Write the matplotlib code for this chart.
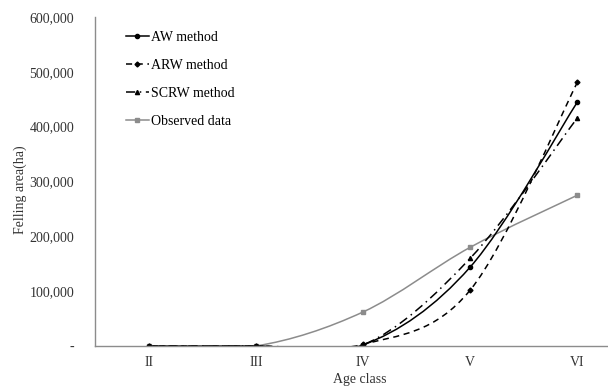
import matplotlib
matplotlib.use("Agg")
import matplotlib.pyplot as plt
from matplotlib.path import Path
from matplotlib.patches import PathPatch
from matplotlib.lines import Line2D
from matplotlib.ticker import FuncFormatter
import numpy as np

plt.rcParams['font.family'] = ['Liberation Serif', 'DejaVu Serif']

categories = ["II", "III", "IV", "V", "VI"]
aw = [0, 0, 2000, 144000, 445000]
arw = [0, 0, 3000, 102000, 481000]
scrw = [0, 0, 2000, 160000, 416000]
observed = [0, 0, 62000, 180000, 275000]

fig = plt.figure(figsize=(6.08, 3.90), dpi=100)
W, H = 608, 390
left, right, top, bottom = 95, 631, 17, 346
ax = fig.add_axes([left / W, 1 - bottom / H, (right - left) / W, (bottom - top) / H])

def smooth_path(xs, ys):
    pts = np.column_stack([xs, ys]).astype(float)
    n = len(pts)
    verts = [pts[0]]
    codes = [Path.MOVETO]
    for i in range(n - 1):
        p0 = pts[max(i - 1, 0)]
        p1 = pts[i]
        p2 = pts[i + 1]
        p3 = pts[min(i + 2, n - 1)]
        c1 = p1 + (p2 - p0) / 6.0
        c2 = p2 - (p3 - p1) / 6.0
        verts += [c1, c2, p2]
        codes += [Path.CURVE4] * 3
    return Path(verts, codes)

x = np.arange(len(categories))
series = [
    (aw, "AW method", "black", "-", "o", 3.0),
    (arw, "ARW method", "black", (0, (4, 3)), "D", 2.5),
    (scrw, "SCRW method", "black", (0, (6, 3, 1, 3)), "^", 3.0),
    (observed, "Observed data", "#8c8c8c", "-", "s", 3.0),
]
handles = []
for ys, label, color, ls, mk, ms in series[::-1]:
    patch = PathPatch(smooth_path(x, ys), fill=False, edgecolor=color,
                      linestyle=ls, linewidth=1.1)
    ax.add_patch(patch)
    ax.plot(x, ys, linestyle="none", marker=mk, markersize=ms, color=color)
for ys, label, color, ls, mk, ms in series:
    handles.append(Line2D([], [], color=color, linestyle=ls, linewidth=1.1,
                          marker=mk, markersize=ms, label=label))

ax.set_xlim(-0.5, len(categories) - 0.5)
ax.set_ylim(0, 600000)
ax.set_xticks(x)
ax.set_xticklabels(categories)
ax.set_yticks(np.arange(0, 600001, 100000))
ax.yaxis.set_major_formatter(FuncFormatter(lambda v, p: "-" if v == 0 else f"{int(v):,}"))
ax.tick_params(axis="both", length=0, labelsize=10, colors="#333333")
ax.tick_params(axis="y", pad=15)
ax.tick_params(axis="x", pad=7)
for s in ["top", "right"]:
    ax.spines[s].set_visible(False)
for s in ["left", "bottom"]:
    ax.spines[s].set_color("#8c8c8c")
    ax.spines[s].set_linewidth(1.0)

fig.text(20 / W, 1 - 190 / H, "Felling area(ha)", rotation=90, ha="center", va="center",
         fontsize=10, color="#333333")
fig.text(360 / W, 1 - 380 / H, "Age class", ha="center", va="center",
         fontsize=10, color="#333333")

fig.legend(handles=handles, loc="upper left", bbox_to_anchor=(126 / W, 1 - 31 / H),
           frameon=False, fontsize=10, handlelength=1.65, handletextpad=0.15,
           labelspacing=1.08, borderpad=0, borderaxespad=0)

fig.savefig("out.png", dpi=100)
